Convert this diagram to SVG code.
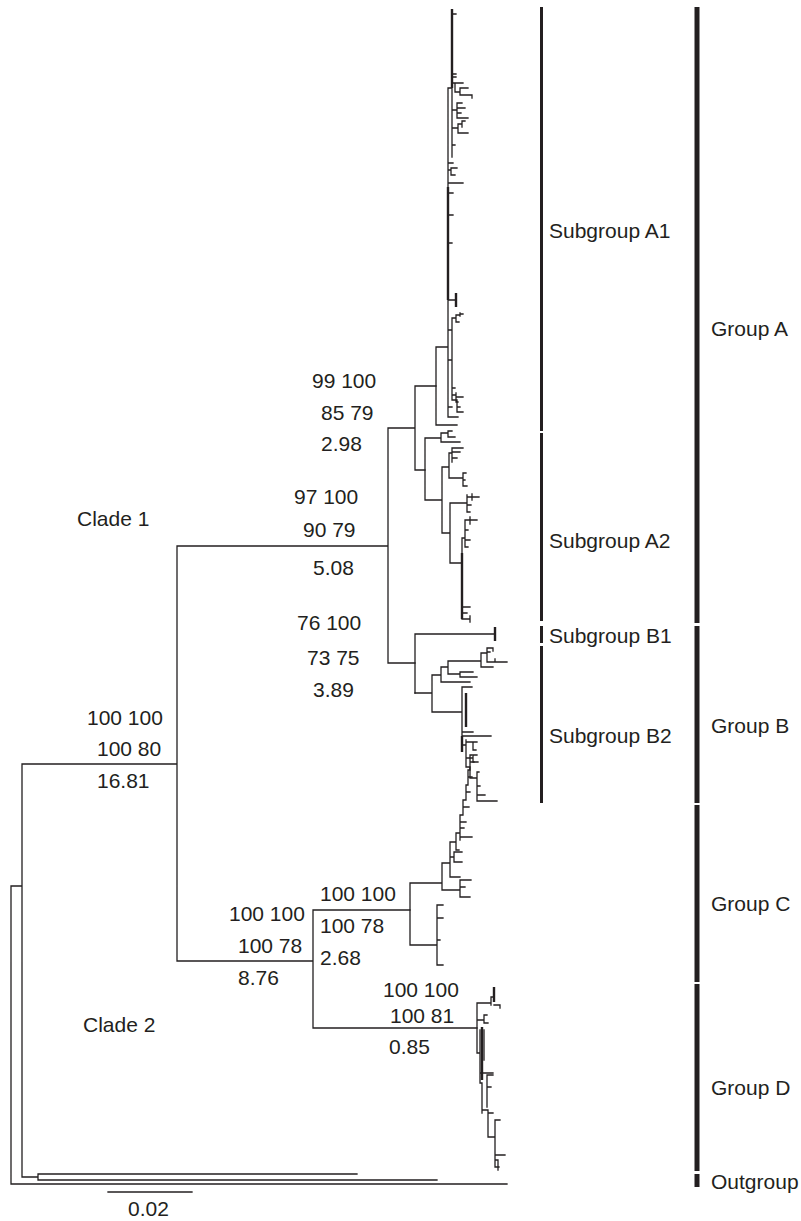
<svg xmlns="http://www.w3.org/2000/svg" width="801" height="1221" viewBox="0 0 801 1221">
<style>
.br{fill:none;stroke:#231f20;stroke-width:1.3;stroke-linecap:square}
.tk{fill:none;stroke:#231f20;stroke-width:2.4}
.t{font-family:"Liberation Sans",Arial,sans-serif;font-size:21px;fill:#231f20}
.sb{fill:#231f20}
</style>
<rect width="801" height="1221" fill="#ffffff"/>
<g id="connectors">
<path class="br" d="M11,886V1184M11,886H22M11,1184H507M22,764V1177M22,1177H38M38,1174V1180M38,1174H357M38,1180H437M22,764H177M177,546V961M177,546H388M177,961H313M388,428V663M388,428H415M388,663H415M313,910V1028M313,910H410M313,1028H477M415,386V470M415,386H436M415,470H425"/>
</g>
<g id="subgroupA1">
<path class="br" d="M436,347V425M436,347H448M436,425H457M448,88V417M448,88H452M452,88V157M452,14H456M452,74H456M452,77H456M452,83H455M455,83V92M455,83H463M455,92H460M460,88V95M460,88H468M460,95H472M472,95V98M452,110H457M457,103V118M457,103H462M457,108H465M457,113H461M457,118H468M452,128H458M458,124V133M458,124H462M462,121V127M462,121H465M458,133H468M452,145H455M448,163H453M448,170H451M451,168V175M451,168H457M451,175H455M448,183H463M448,193H453M448,215H453M448,243H452M448,300H456M448,330H452M452,318V400M452,318H456M456,315V322M456,315H460M460,313V316M460,314H463M456,322H459M448,360H452M452,388H455M452,395H456M456,393V402M456,397H463M456,402H458M452,400H457M457,400V412M457,407H460M457,412H463M448,417H458M448,407H452"/>
<path class="tk" d="M452,9V88M448,187V300M456,293V307"/>
</g>
<g id="subgroupA2">
<path class="br" d="M425,438V500M425,438H441M441,433V442M441,433H448M448,431V437M448,437H455M448,431H452M441,442H460M425,500H442M442,467V533M442,467H449M449,453V478M449,453H452M452,448V462M452,448H463M452,452H460M452,458H457M449,478H463M463,473V486M463,473H466M463,486H467M463,480H465M442,533H450M450,503V563M450,503H467M467,495V512M467,497H472M472,494V500M472,497H479M467,505H471M467,512H470M450,563H462M462,538V619M462,538H465M465,520V547M465,520H470M470,517V524M470,520H477M465,530H468M465,540H470M465,547H468M462,607H470M462,613H467M462,619H470M470,616V622"/>
<path class="tk" d="M462,553V619"/>
</g>
<g id="subgroupB1">
<path class="br" d="M415,634V693M415,634H495"/>
<path class="tk" d="M495,627V641"/>
</g>
<g id="subgroupB2">
<path class="br" d="M415,693H432M432,675V712M432,675H441M441,667V682M441,667H448M448,661V674M448,661H481M481,653V667M481,653H487M487,648V662M487,648H493M493,648V651M487,652H490M487,662H495M495,659V662M495,662H507M481,667H493M448,674H460M460,672V677M460,672H473M460,677H477M441,682H470M432,712H462M462,687V736M462,687H472M462,732H473M462,736H491M466,740V767M462,745H466M466,742H473M473,742V750M473,742H477M473,750H476M466,758H473M473,755V762M473,755H477M473,762H478M466,767H470M470,767V778M470,778H477M477,772V801M477,772H479M477,786H480M477,795H485M477,801H497"/>
<path class="tk" d="M466,693V727M462,736V752"/>
</g>
<g id="groupC">
<path class="br" d="M410,883V945M410,883H442M442,863V890M442,863H450M442,890H460M460,880V897M460,880H471M460,887H465M460,897H470M450,842V877M450,842H456M450,877H460M456,833V850M456,833H460M456,850H459M460,837H472M450,857H454M454,852V862M454,852H462M454,862H462M460,840V815M460,815H463M463,815V800M463,800H466M466,800V785M466,785H468M468,785V770M468,770H470M470,770V755M470,755H472M470,762H474M468,777H472M466,792H470M463,807H469M460,822H466M460,828H464M410,945H437M437,905V965M437,905H443M437,918H443M437,940H440M437,965H443"/>
</g>
<g id="groupD">
<path class="br" d="M477,1003V1053M477,1003H491M491,997V1005M491,997H494M494,1005H500M500,1005V1008M477,1020H484M484,1015V1023M484,1015H487M484,1023H488M477,1053H480M480,1030V1083M484,1030V1060M480,1073H493M487,1075V1107M480,1083H482M487,1075H493M487,1087H491M482,1083V1113M482,1110H488M488,1110V1137M488,1113H493M488,1137H495M495,1120V1167M495,1120H500M495,1155H505M495,1160H498M498,1160V1170M495,1167H499"/>
<path class="tk" d="M494,987V1002M482,1027V1080"/>
</g>
<g id="scalebar">
<path class="br" d="M108,1192H192"/>
<text class="t" x="128" y="1216">0.02</text>
</g>
<g id="bars">
<rect class="sb" x="540" y="7" width="3" height="424"/>
<rect class="sb" x="540" y="433" width="3" height="188"/>
<rect class="sb" x="540" y="626" width="3" height="17"/>
<rect class="sb" x="540" y="646" width="3" height="157"/>
<rect class="sb" x="694.5" y="7" width="5" height="616"/>
<rect class="sb" x="694.5" y="626" width="5" height="177"/>
<rect class="sb" x="694.5" y="805" width="5" height="177"/>
<rect class="sb" x="694.5" y="984" width="5" height="187"/>
<rect class="sb" x="694.5" y="1174" width="5" height="13"/>
</g>
<g id="grouplabels">
<text class="t" x="549" y="238">Subgroup A1</text>
<text class="t" x="549" y="548">Subgroup A2</text>
<text class="t" x="549" y="643">Subgroup B1</text>
<text class="t" x="549" y="743">Subgroup B2</text>
<text class="t" x="711" y="336">Group A</text>
<text class="t" x="711" y="733">Group B</text>
<text class="t" x="711" y="911">Group C</text>
<text class="t" x="711" y="1095">Group D</text>
<text class="t" x="711" y="1189">Outgroup</text>
<text class="t" x="77" y="526">Clade 1</text>
<text class="t" x="83" y="1032">Clade 2</text>
</g>
<g id="nodelabels">
<text class="t" x="312" y="388">99 100</text>
<text class="t" x="321" y="420">85 79</text>
<text class="t" x="321" y="451">2.98</text>
<text class="t" x="294" y="504">97 100</text>
<text class="t" x="303" y="537">90 79</text>
<text class="t" x="313" y="575">5.08</text>
<text class="t" x="297" y="630">76 100</text>
<text class="t" x="307" y="665">73 75</text>
<text class="t" x="313" y="697">3.89</text>
<text class="t" x="87" y="725">100 100</text>
<text class="t" x="97" y="756">100 80</text>
<text class="t" x="97" y="788">16.81</text>
<text class="t" x="320" y="901">100 100</text>
<text class="t" x="320" y="933">100 78</text>
<text class="t" x="320" y="965">2.68</text>
<text class="t" x="229" y="921">100 100</text>
<text class="t" x="238" y="953">100 78</text>
<text class="t" x="238" y="985">8.76</text>
<text class="t" x="383" y="997">100 100</text>
<text class="t" x="390" y="1023">100 81</text>
<text class="t" x="389" y="1054">0.85</text>
</g>
</svg>
